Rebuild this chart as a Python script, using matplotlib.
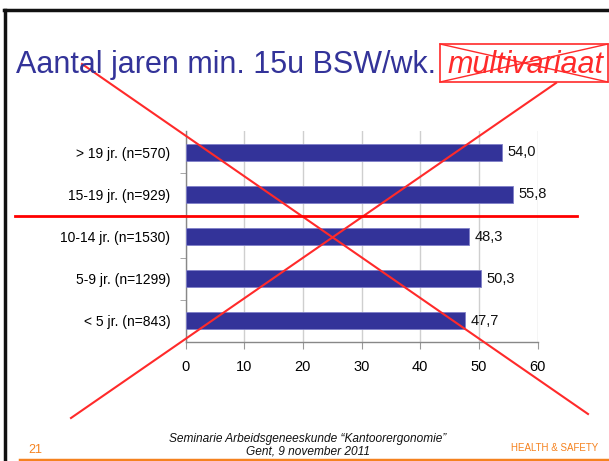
import numpy as np
import matplotlib.pyplot as plt
from matplotlib.lines import Line2D
from matplotlib.patches import Rectangle

# data
categories = ["< 5 jr. (n=843)", "5-9 jr. (n=1299)", "10-14 jr. (n=1530)",
              "15-19 jr. (n=929)", "> 19 jr. (n=570)"]
values = [47.7, 50.3, 48.3, 55.8, 54.0]
value_labels = ["47,7", "50,3", "48,3", "55,8", "54,0"]
xticks = [0, 10, 20, 30, 40, 50, 60]

W, H = 609, 461
navy = '#333399'
red = '#ff2a2a'
orange = '#f5821f'
plt.rcParams['font.family'] = ['Liberation Sans', 'DejaVu Sans']

fig = plt.figure(figsize=(W / 100, H / 100), dpi=100)


def px(x, y):
    # pixel position -> figure fraction
    return x / W, 1 - y / H


def fig_line(x0, y0, x1, y1, **kw):
    (a, b), (c, d) = px(x0, y0), px(x1, y1)
    fig.add_artist(Line2D([a, c], [b, d], transform=fig.transFigure, **kw))


# bar chart
ax = fig.add_axes([185.5 / W, 1 - 342 / H, (537.7 - 185.5) / W, (342 - 131) / H])
y = np.arange(len(categories))
ax.barh(y, values, height=0.4, color=navy, edgecolor='#8080c8', linewidth=0.6, zorder=3)
for yi, v, lab in zip(y, values, value_labels):
    ax.text(v + 0.9, yi, lab, va='center', ha='left', fontsize=10.5, color='#111111')

ax.set_xlim(0, 60)
ax.set_ylim(-0.5, len(categories) - 0.5)
ax.set_xticks(xticks)
ax.set_xticklabels([str(t) for t in xticks], fontsize=10.5)
ax.set_yticks(y)
ax.set_yticklabels(categories, fontsize=10)
ax.set_yticks(np.arange(-0.5, len(categories), 1)[1:-1], minor=True)
ax.tick_params(axis='y', which='major', length=0, pad=11)
ax.tick_params(axis='y', which='minor', length=4, color='#999999', direction='out')
ax.tick_params(axis='x', length=5, color='#999999', direction='out', pad=8)
ax.grid(axis='x', color='#cfcfcf', linewidth=1, zorder=0)
for s in ['top', 'right']:
    ax.spines[s].set_visible(False)
for s in ['left', 'bottom']:
    ax.spines[s].set_color('#888888')
    ax.spines[s].set_linewidth(1)

# title
fig.text(*px(16, 73), "Aantal jaren min. 15u BSW/wk.", fontsize=22, color=navy,
         ha='left', va='baseline')
fig.text(*px(447, 73), "multivariaat", fontsize=22, color=red, style='italic',
         ha='left', va='baseline')
bx0, by0 = px(440, 82)
bx1, by1 = px(608, 44)
fig.add_artist(Rectangle((bx0, by0), bx1 - bx0, by1 - by0, transform=fig.transFigure,
                         fill=False, edgecolor=red, linewidth=1.2))
fig_line(440, 44, 608, 82, color=red, linewidth=1)
fig_line(440, 82, 608, 44, color=red, linewidth=1)

# big cross and horizontal line
fig_line(82, 64, 588, 414, color=red, linewidth=1.5)
fig_line(71, 418, 556, 83, color=red, linewidth=1.5)
fig_line(15, 216.5, 577, 216.5, color='#ff0000', linewidth=2)

# frame
fig_line(4.5, 461, 4.5, 10, color='#111111', linewidth=2.5)
fig_line(3.5, 10, 609, 10, color='#111111', linewidth=2.5)

# footer
fig.text(*px(28, 450), "21", fontsize=9, color=orange, ha='left', va='center')
fig.text(*px(308, 439), "Seminarie Arbeidsgeneeskunde \u201cKantoorergonomie\u201d",
         fontsize=8.6, style='italic', ha='center', va='center', color='#111111')
fig.text(*px(308, 451), "Gent, 9 november 2011", fontsize=8.6, style='italic',
         ha='center', va='center', color='#111111')
fig.text(*px(598, 448), "HEALTH & SAFETY", fontsize=7, color=orange, ha='right',
         va='center')
fig_line(20, 460, 609, 460, color=orange, linewidth=2.5)

fig.savefig('out.png', dpi=100)
